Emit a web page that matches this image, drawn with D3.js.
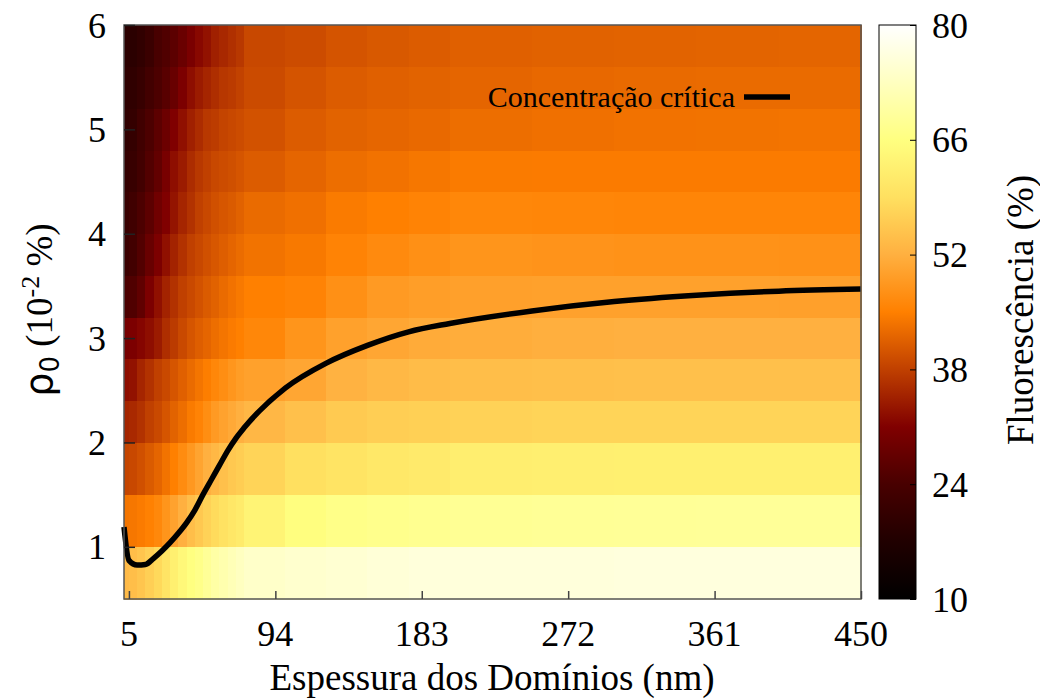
<!DOCTYPE html>
<html>
<head>
  <meta charset="utf-8">
  <title>Fluorescência</title>
  <style>
    body { margin: 0; background: #fff; }
    text { font-family: "Liberation Serif", "Times New Roman", serif; fill: #000; }
  </style>
</head>
<body>
<svg width="1040" height="700"></svg>

<script src="https://cdn.jsdelivr.net/npm/d3@7"></script>
<script>
  // grid edges of the pm3d map (nm and 10^-2 %)
  var xEdges = [2, 5, 10, 15, 20, 25, 30, 35, 40, 45, 50, 55, 60, 65, 70, 75,
                100, 125, 150, 175, 200, 250, 300, 350, 400, 450];
  var yEdges = [0.5, 1.0, 1.5, 2.0, 2.4, 2.8, 3.2, 3.6, 4.0, 4.4, 4.8, 5.2, 5.6, 6.0];

  // fluorescence (%) per cell, bottom row first
  var fluor = [
    [53.5,54,55,56.5,58,60,62.5,64.5,66,67,68.5,70,71,72,73,74,74.5,75,75.5,76,76,76,76.2,76.2,76.2],
    [43.8,44,44.5,45.2,46.2,48,50,52,54,55.5,57,58.2,59.5,60.5,61.5,63.5,65.7,66.9,67.3,67.8,68.2,68.4,68.5,68.6,68.6],
    [38.5,38.9,39.8,40.9,42.1,43.6,45,46.8,48.5,50.3,52,53.2,54.3,55.5,56.2,57.3,59,59.9,60.8,61.3,62.2,62.4,62.6,62.6,62.6],
    [35,35.5,36.5,38,39,40.3,41.8,43,44.4,45.5,47,48.8,50,51,52,53,54.3,55.8,56.4,56.7,57,57.2,57.3,57.3,57.3],
    [32.5,33,35,36.5,38,39,40.3,41.5,42.7,43.8,44.8,46,47,48.2,49.2,49.8,50.6,52.3,53.2,53.7,54,54.2,54.3,54.3,54.3],
    [30,30.5,31.5,32.5,34,36,37.5,39,40.3,41.3,42.1,43,43.8,44.5,45,46,48,49.8,50.6,51.2,51.5,51.8,52,52,52],
    [24.5,25,27,30.5,32.8,34.8,36.5,38,39,40,40.9,41.7,42.7,43.5,44.2,45,45.5,47.3,48.8,49.4,49.7,49.8,49.8,49.8,49.7],
    [21.8,23,25.3,28,30.5,32.8,34.8,36.5,38,38.9,39.8,40.5,41.3,42.1,42.8,43.6,44.2,45.5,46.5,47.3,48,47.8,47.6,47.6,47.5],
    [21.2,22.6,24.5,26.5,29,31,33.2,35,36.5,38,38.9,39.8,40.4,40.9,41.7,42.7,43.3,44.4,45,45.5,46,45.9,45.8,45.8,45.8],
    [20.5,21.2,23,25.3,27.3,30,32.5,34,35.8,37.1,38,38.9,39.3,39.7,40.3,41.1,42.1,43,43.5,44,44.4,44.5,44.5,44.5,44.5],
    [19.8,20.5,22.6,24.5,26.5,28.5,31,32.8,34.5,35.8,37.1,37.6,38.4,38.9,39.3,40,41.1,41.8,42.2,42.5,43,43.3,43.5,43.6,43.7],
    [19.5,19.8,21,23,24.5,26,28,30.5,32.5,34,35,36,37,37.5,38.2,39.2,40.2,41.1,41.5,41.8,42.1,42.4,42.6,42.7,42.7],
    [19,19,20,21.5,24,25,26.5,28.2,30.2,31.9,33,34.5,35.4,36.3,37.1,38.9,39.3,40.2,40.7,41.1,41.5,41.7,41.8,41.9,42]
  ];

  // critical concentration curve
  var critX = [2, 5, 10, 15, 20, 25, 30, 35, 40, 45, 50, 55, 60, 65, 70, 75,
               100, 125, 150, 175, 200, 250, 300, 350, 400, 450];
  var critY = [1.19, 0.87, 0.825, 0.83, 0.89, 0.96, 1.04, 1.13, 1.23, 1.35, 1.50, 1.64, 1.78, 1.92, 2.04, 2.14,
               2.52, 2.76, 2.93, 3.06, 3.14, 3.26, 3.35, 3.41, 3.45, 3.47];

  var xTicks = [5, 94, 183, 272, 361, 450];
  var yTicks = [1, 2, 3, 4, 5, 6];
  var cbTicks = [10, 24, 38, 52, 66, 80];

  var paletteStops = [10, 17, 24, 31, 38, 45, 52, 59, 66, 73, 80];
  var paletteColors = ["#000000", "#200000", "#480000", "#800000", "#c04000", "#ff8000",
                       "#ffb040", "#ffe060", "#ffff80", "#ffffc0", "#ffffff"];

  var svg = d3.select("svg"),
      plot = {left: 124, right: 861, top: 25, bottom: 599};

  var x = d3.scaleLinear().domain([2, 450]).range([plot.left, plot.right]),
      y = d3.scaleLinear().domain([0.5, 6]).range([plot.bottom, plot.top]),
      color = d3.scaleLinear().domain(paletteStops).range(paletteColors).interpolate(d3.interpolateRgb);

  // heatmap cells
  var cells = [];
  fluor.forEach(function(row, j) {
    row.forEach(function(v, i) {
      cells.push({x0: xEdges[i], x1: xEdges[i + 1], y0: yEdges[j], y1: yEdges[j + 1], v: v});
    });
  });

  svg.append("g")
      .attr("shape-rendering", "crispEdges")
    .selectAll("rect")
    .data(cells)
    .enter().append("rect")
      .attr("x", function(d) { return x(d.x0); })
      .attr("y", function(d) { return y(d.y1); })
      .attr("width", function(d) { return x(d.x1) - x(d.x0) + 0.5; })
      .attr("height", function(d) { return y(d.y0) - y(d.y1) + 0.5; })
      .attr("fill", function(d) { return color(d.v); });

  // curve
  var line = d3.line()
      .curve(d3.curveMonotoneX)
      .x(function(d, i) { return x(critX[i]); })
      .y(function(d) { return y(d); });

  svg.append("path")
      .datum(critY)
      .attr("d", line)
      .attr("fill", "none")
      .attr("stroke", "#000")
      .attr("stroke-width", 5.5)
      .attr("stroke-linejoin", "round");

  // frame
  svg.append("rect")
      .attr("x", plot.left).attr("y", plot.top)
      .attr("width", plot.right - plot.left).attr("height", plot.bottom - plot.top)
      .attr("fill", "none").attr("stroke", "#555").attr("stroke-width", 1.5);

  // axes: inward ticks, no domain line
  var xAxis = svg.append("g")
      .attr("transform", "translate(0," + plot.bottom + ")")
      .call(d3.axisTop(x).tickValues(xTicks).tickSize(8).tickFormat(""));
  xAxis.select(".domain").remove();
  xAxis.selectAll("line").attr("stroke", "#444").attr("stroke-width", 1.5);

  var yAxis = svg.append("g")
      .attr("transform", "translate(" + plot.left + ",0)")
      .call(d3.axisRight(y).tickValues(yTicks).tickSize(11).tickFormat(""));
  yAxis.select(".domain").remove();
  yAxis.selectAll("line").attr("stroke", "#222").attr("stroke-width", 1.5);

  svg.append("g").selectAll("text")
    .data(xTicks)
    .enter().append("text")
      .attr("x", function(d) { return x(d); })
      .attr("y", 646)
      .attr("text-anchor", "middle")
      .style("font-size", "36px")
      .text(function(d) { return d; });

  svg.append("g").selectAll("text")
    .data(yTicks)
    .enter().append("text")
      .attr("x", 106)
      .attr("y", function(d) { return y(d); })
      .attr("dy", "0.35em")
      .attr("text-anchor", "end")
      .style("font-size", "36px")
      .text(function(d) { return d; });

  svg.append("text")
      .attr("x", 492)
      .attr("y", 690)
      .attr("text-anchor", "middle")
      .style("font-size", "37px")
      .text("Espessura dos Domínios (nm)");

  var yl = svg.append("text")
      .attr("transform", "translate(52,310) rotate(-90)")
      .attr("text-anchor", "middle")
      .style("font-size", "37px");
  yl.append("tspan").style("font-family", "'DejaVu Sans', sans-serif").style("font-size", "38px").text("ρ");
  yl.append("tspan").attr("dy", 7).style("font-size", "26px").style("font-family", "'DejaVu Sans', sans-serif").text("0");
  yl.append("tspan").attr("dy", -7).text(" (10");
  yl.append("tspan").attr("dy", -13).style("font-size", "26px").text("-2");
  yl.append("tspan").attr("dy", 13).text(" %)");

  // legend
  svg.append("text")
      .attr("x", 735)
      .attr("y", 107)
      .attr("text-anchor", "end")
      .style("font-size", "30px")
      .text("Concentração crítica");
  svg.append("line")
      .attr("x1", 744).attr("x2", 790)
      .attr("y1", 97).attr("y2", 97)
      .attr("stroke", "#000").attr("stroke-width", 5.5);

  // colour bar
  var cb = {left: 879, right: 916};
  var cbY = d3.scaleLinear().domain([10, 80]).range([plot.bottom, plot.top]);
  var grad = svg.append("defs").append("linearGradient")
      .attr("id", "cbgrad")
      .attr("x1", 0).attr("x2", 0).attr("y1", 1).attr("y2", 0);
  grad.selectAll("stop")
    .data(paletteStops)
    .enter().append("stop")
      .attr("offset", function(d) { return (d - 10) / 70; })
      .attr("stop-color", function(d) { return color(d); });

  svg.append("rect")
      .attr("x", cb.left).attr("y", plot.top)
      .attr("width", cb.right - cb.left).attr("height", plot.bottom - plot.top)
      .attr("fill", "url(#cbgrad)")
      .attr("stroke", "#000").attr("stroke-width", 1);

  var cbAxis = svg.append("g")
      .attr("transform", "translate(" + cb.right + ",0)")
      .call(d3.axisLeft(cbY).tickValues(cbTicks).tickSize(6).tickFormat(""));
  cbAxis.select(".domain").remove();
  cbAxis.selectAll("line").attr("stroke", "#000");

  svg.append("g").selectAll("text")
    .data(cbTicks)
    .enter().append("text")
      .attr("x", 932)
      .attr("y", function(d) { return cbY(d); })
      .attr("dy", "0.35em")
      .style("font-size", "36px")
      .text(function(d) { return d; });

  svg.append("text")
      .attr("transform", "translate(1020,310) rotate(-90)")
      .attr("dy", "0.35em")
      .attr("text-anchor", "middle")
      .style("font-size", "37px")
      .text("Fluorescência (%)");
</script>
</body>
</html>
